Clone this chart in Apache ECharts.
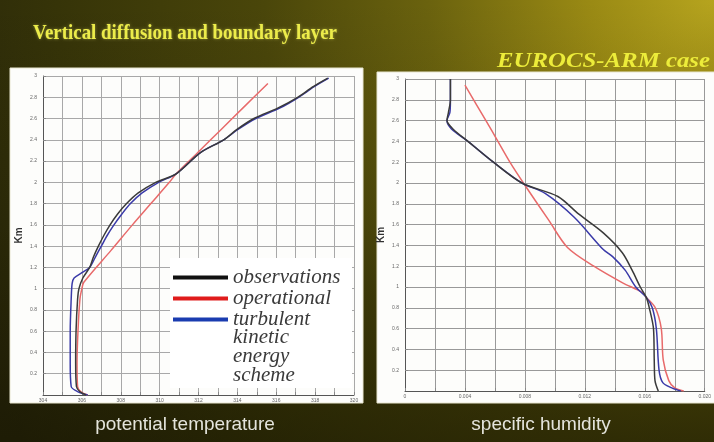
<!DOCTYPE html>
<html><head><meta charset="utf-8">
<script src="https://cdn.jsdelivr.net/npm/echarts@6/dist/echarts.min.js"></script>
<style>html,body{margin:0;padding:0;background:#2a2808;}#c{width:714px;height:442px;}</style>
</head><body><div id="c"></div>
<script>
// ---- data: [height km, value] ----
const thetaObs = [[0,306.2],[0.03,305.9],[0.08,305.72],[0.3,305.68],[0.6,305.7],[0.9,305.78],[1.0,305.85],[1.1,306.05],[1.2,306.4],[1.3,306.6],[1.4,306.85],[1.5,307.13],[1.6,307.45],[1.7,307.83],[1.8,308.3],[1.9,308.9],[2.0,309.8],[2.08,310.85],[2.28,312.1],[2.4,313.3],[2.5,314.0],[2.6,314.85],[2.7,316.1],[2.8,317.1],[2.9,317.9],[2.98,318.65]];
const thetaOper = [[0,306.3],[0.03,305.95],[0.08,305.78],[0.3,305.75],[0.6,305.8],[0.9,305.9],[1.0,306.0],[1.06,306.1],[1.36,307.5],[1.6,308.6],[1.8,309.55],[2.0,310.5],[2.08,310.85],[2.3,312.07],[2.5,313.18],[2.7,314.29],[2.93,315.57]];
const thetaTke = [[0,306.3],[0.03,305.8],[0.08,305.45],[0.3,305.4],[0.6,305.4],[0.9,305.45],[1.05,305.5],[1.1,305.6],[1.15,306.0],[1.2,306.4],[1.3,306.7],[1.4,307.0],[1.5,307.3],[1.6,307.65],[1.7,308.05],[1.8,308.5],[1.9,309.1],[2.0,309.95],[2.08,310.85],[2.28,312.1],[2.4,313.3],[2.5,314.05],[2.6,314.95],[2.7,316.2],[2.8,317.15],[2.9,317.95],[2.98,318.7]];
const qObs = [[0,0.0169],[0.1,0.01668],[0.3,0.01663],[0.6,0.01658],[0.8,0.0163],[0.9,0.0161],[1.0,0.0157],[1.16,0.01516],[1.33,0.0145],[1.52,0.01323],[1.7,0.0116],[1.87,0.0102],[2.0,0.0078],[2.2,0.0059],[2.4,0.0042],[2.52,0.0032],[2.6,0.0028],[2.68,0.0029],[2.8,0.00303],[3.0,0.00303]];
const qOper = [[0,0.0186],[0.03,0.018],[0.1,0.0176],[0.3,0.01723],[0.6,0.0171],[0.8,0.0167],[0.9,0.0161],[0.95,0.0158],[1.04,0.01452],[1.2,0.0126],[1.38,0.01084],[1.64,0.0096],[2.0,0.0079],[2.2,0.0070],[2.4,0.0062],[2.6,0.0054],[2.94,0.004]];
const qTke = [[0,0.0184],[0.03,0.0178],[0.08,0.0172],[0.2,0.01695],[0.6,0.01677],[0.8,0.0165],[0.9,0.0161],[1.0,0.0154],[1.16,0.0147],[1.29,0.01387],[1.36,0.01323],[1.67,0.01129],[1.9,0.00935],[2.0,0.0078],[2.2,0.0059],[2.4,0.0042],[2.52,0.0031],[2.6,0.0028],[2.68,0.0030],[2.8,0.00303],[3.0,0.00303]];
const thetaRange = [304, 320];
const qRange = [0, 0.02];
const heightRange = [0, 3];
const names = ['observations', 'operational', 'turbulent kinetic energy scheme'];

const chart = echarts.init(document.getElementById('c'), null, {renderer:'canvas'});
function fitScale(text, font, target){ const c=document.createElement('canvas').getContext('2d'); c.font=font; return target / c.measureText(text).width; }
const titleFont = 'bold 22px "Liberation Serif"';
const titleText = 'Vertical diffusion and boundary layer';
const subFont = 'italic bold 21px "Liberation Serif"';
const subText = 'EUROCS-ARM case';
const toXY = arr => arr.map(p => [p[1], p[0]]);

const axisLbl = {fontSize:5, color:'#666', fontFamily:'Liberation Sans'};
const splitL = {show:true, lineStyle:{color:'#a8a8a8', width:1}};
const colors = ['#3a3a3a', '#e86a6a', '#3a3aa8'];

function mkSeries(data, i, ax){
  return {type:'line', name:names[i], xAxisIndex:ax, yAxisIndex:ax, data:toXY(data), showSymbol:false, smooth:0.3,
    lineStyle:{color:colors[i], width:1.5}, itemStyle:{color:colors[i]}, z: 3+ (i===0?1:0)};
}

chart.setOption({
  animation:false,
  graphic:[
    {type:'rect', z:-100, shape:{x:0,y:0,width:714,height:442}, style:{fill:new echarts.graphic.RadialGradient(714,0,820,[
      {offset:0,color:'#b6a41e'},{offset:0.15,color:'#9a8a14'},{offset:0.35,color:'#6a620e'},{offset:0.55,color:'#4a460a'},{offset:0.8,color:'#363408'},{offset:1,color:'#28260a'}],true)}},
    {type:'rect', z:-99, shape:{x:0,y:0,width:714,height:442}, style:{fill:new echarts.graphic.LinearGradient(0,0,0,442,[
      {offset:0,color:'rgba(20,18,0,0)'},{offset:0.5,color:'rgba(20,18,0,0.15)'},{offset:1,color:'rgba(20,18,0,0.5)'}],true)}},
    {type:'rect', z:-50, shape:{x:10,y:68,width:353,height:335}, style:{fill:'#fdfdfb', stroke:'#e8e6d0', lineWidth:1}},
    {type:'rect', z:-50, shape:{x:377,y:72,width:340,height:331}, style:{fill:'#fdfdfb', stroke:'#e8e6d0', lineWidth:1}},
    {type:'rect', z:1, shape:{x:170,y:258,width:182,height:130}, style:{fill:'#ffffff'}},
    {type:'text', z:10, x:33, y:33, scaleX: fitScale(titleText, titleFont, 304), style:{text:titleText, font:titleFont, fill:'#ecec4a', textAlign:'left', textVerticalAlign:'middle', textShadowColor:'rgba(255,255,120,0.45)', textShadowBlur:3}},
    {type:'text', z:10, x:710, y:62, scaleX: fitScale(subText, subFont, 213), style:{text:subText, font:subFont, fill:'#ecec3a', textAlign:'right', textVerticalAlign:'middle'}},
    {type:'text', z:10, x:185, y:425, style:{text:'potential temperature', font:'19px "Liberation Sans"', fill:'#e4e4dc', textAlign:'center', textVerticalAlign:'middle'}},
    {type:'text', z:10, x:541, y:425, style:{text:'specific humidity', font:'19px "Liberation Sans"', fill:'#e4e4dc', textAlign:'center', textVerticalAlign:'middle'}},
    {type:'text', z:10, x:233, y:328, style:{text:'kinetic\nenergy\nscheme', font:'italic 21px "Liberation Serif"', fill:'#3a3a3a', textAlign:'left', textVerticalAlign:'top', lineHeight:19}}
  ],
  legend:{orient:'vertical', left:168, top:262, itemWidth:55, itemHeight:4, itemGap:0, icon:'rect', selectedMode:false, z:10,
    data:[{name:names[0], itemStyle:{color:'#111111'}},{name:names[1], itemStyle:{color:'#e01c1c'}},{name:names[2], itemStyle:{color:'#1a3cb0'}}],
    formatter: n => n === names[2] ? 'turbulent' : n,
    textStyle:{fontFamily:'Liberation Serif', fontStyle:'italic', fontSize:21, color:'#3a3a3a', lineHeight:19, height:19}},
  grid:[
    {left:43, top:76, width:311, height:319},
    {left:405, top:79, width:310, height:312}
  ],
  xAxis:[
    {type:'value', gridIndex:0, min:thetaRange[0], max:thetaRange[1], interval:1,
      axisLine:{show:true, onZero:false, lineStyle:{color:'#555'}}, axisTick:{show:true, inside:true, length:3, lineStyle:{color:'#888'}},
      axisLabel:{...axisLbl, margin:3, formatter: v => (Math.round(v) % 2 === 0 ? String(Math.round(v)) : '')}, splitLine:splitL},
    {type:'value', gridIndex:1, min:qRange[0], max:qRange[1], interval:0.002,
      axisLine:{show:true, onZero:false, lineStyle:{color:'#555'}}, axisTick:{show:true, inside:true, length:3, lineStyle:{color:'#888'}},
      axisLabel:{...axisLbl, margin:3, formatter: v => { const k = Math.round(v/0.002); return k % 2 === 0 ? (k===0 ? '0' : (k*0.002).toFixed(3)) : ''; }}, splitLine:{show:true, lineStyle:{color:'#999', width:1}}}
  ],
  yAxis:[
    {type:'value', gridIndex:0, min:heightRange[0], max:heightRange[1], interval:0.2, name:'Km', nameLocation:'middle', nameGap:19, nameRotate:90,
      nameTextStyle:{fontSize:10, fontWeight:'bold', color:'#333', fontFamily:'Liberation Sans'},
      axisLine:{show:true, lineStyle:{color:'#555'}}, axisTick:{show:true, inside:true, length:3, lineStyle:{color:'#888'}},
      axisLabel:{...axisLbl, margin:6, showMinLabel:false, formatter: v => String(Math.round(v*10)/10)}, splitLine:splitL},
    {type:'value', gridIndex:1, min:heightRange[0], max:heightRange[1], interval:0.2, name:'Km', nameLocation:'middle', nameGap:19, nameRotate:90,
      nameTextStyle:{fontSize:10, fontWeight:'bold', color:'#333', fontFamily:'Liberation Sans'},
      axisLine:{show:true, lineStyle:{color:'#555'}}, axisTick:{show:true, inside:true, length:3, lineStyle:{color:'#888'}},
      axisLabel:{...axisLbl, margin:6, showMinLabel:false, formatter: v => String(Math.round(v*10)/10)}, splitLine:{show:true, lineStyle:{color:'#999', width:1}}}
  ],
  series:[
    mkSeries(thetaObs,0,0), mkSeries(thetaOper,1,0), mkSeries(thetaTke,2,0),
    mkSeries(qObs,0,1), mkSeries(qOper,1,1), mkSeries(qTke,2,1)
  ]
});
</script></body></html>
